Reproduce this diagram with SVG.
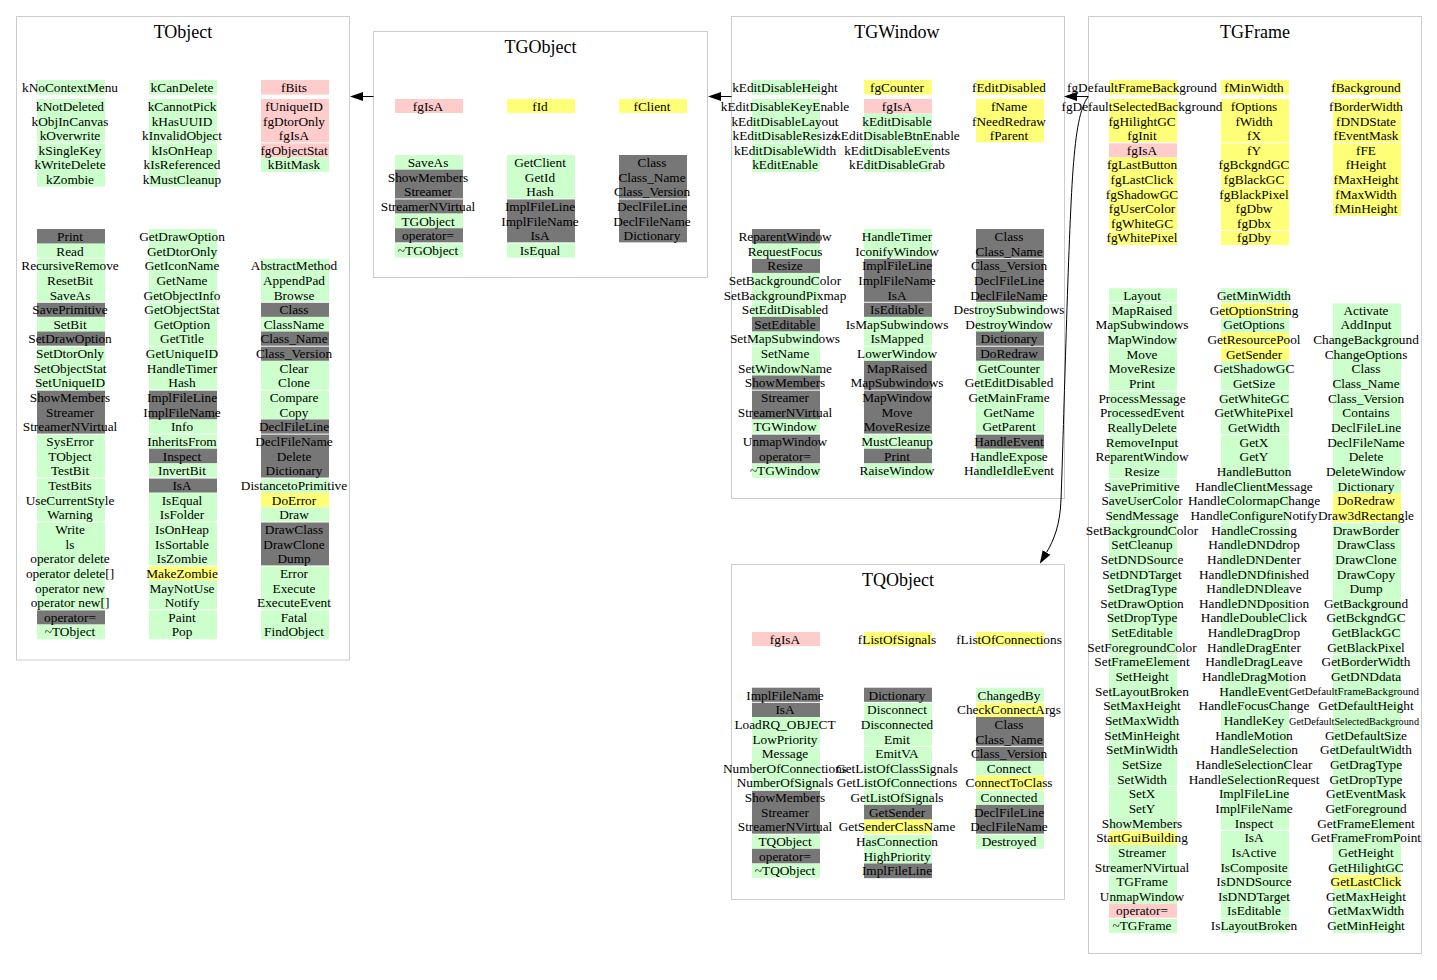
<svg xmlns="http://www.w3.org/2000/svg" width="1437" height="980" viewBox="0 0 1437 980">
<style>
.box{fill:none;stroke:#cccccc;stroke-width:1}
.ttl{font-family:"Liberation Serif","Times New Roman",serif;font-size:18px;text-anchor:middle;fill:#000}
.t{font-family:"Liberation Serif","Times New Roman",serif;font-size:13.3px;text-anchor:middle;fill:#000}
.ts{font-family:"Liberation Serif","Times New Roman",serif;font-size:11.3px;text-anchor:start;fill:#000}
.g{fill:#ccffcc}.k{fill:#777777}.p{fill:#ffcccc}.y{fill:#ffff77}
.sep{stroke:#ffffff;stroke-width:1;fill:none}
.e{fill:none;stroke:#000;stroke-width:1}
</style>
<defs>
<marker id="arr" markerUnits="userSpaceOnUse" markerWidth="13" markerHeight="9" viewBox="0 0 13 9" refX="0" refY="4.5" orient="auto"><path d="M0,0L13,4.5L0,9z" fill="#000"/></marker>
</defs>
<rect width="1437" height="980" fill="#ffffff"/>

<g id="TObject">
<rect class="box" x="16.5" y="16.5" width="333" height="643.5"/>
<text class="ttl" x="183" y="38">TObject</text>
<g transform="translate(37,80)">
<rect class="g" x="0" y="0" width="68" height="14.6"/><rect class="g" x="0" y="19" width="68" height="87.6"/>
<rect class="g" x="112" y="0" width="68" height="14.6"/><rect class="g" x="112" y="19" width="68" height="87.6"/>
<rect class="p" x="224" y="0" width="68" height="14.6"/><rect class="p" x="224" y="19" width="68" height="58.4"/><rect class="g" x="224" y="77.4" width="68" height="14.6"/>
<path class="sep" d="M0,62.8H292"/>
<text class="t"><tspan x="33" y="11.9">kNoContextMenu</tspan><tspan x="33" y="30.9">kNotDeleted</tspan><tspan x="33" y="45.5">kObjInCanvas</tspan><tspan x="33" y="60.1">kOverwrite</tspan><tspan x="33" y="74.7">kSingleKey</tspan><tspan x="33" y="89.3">kWriteDelete</tspan><tspan x="33" y="103.9">kZombie</tspan></text>
<text class="t"><tspan x="145" y="11.9">kCanDelete</tspan><tspan x="145" y="30.9">kCannotPick</tspan><tspan x="145" y="45.5">kHasUUID</tspan><tspan x="145" y="60.1">kInvalidObject</tspan><tspan x="145" y="74.7">kIsOnHeap</tspan><tspan x="145" y="89.3">kIsReferenced</tspan><tspan x="145" y="103.9">kMustCleanup</tspan></text>
<text class="t"><tspan x="257" y="11.9">fBits</tspan><tspan x="257" y="30.9">fUniqueID</tspan><tspan x="257" y="45.5">fgDtorOnly</tspan><tspan x="257" y="60.1">fgIsA</tspan><tspan x="257" y="74.7">fgObjectStat</tspan><tspan x="257" y="89.3">kBitMask</tspan></text>
</g>
<g transform="translate(37,229)">
<rect class="k" x="0" y="0" width="68" height="14.65"/><rect class="g" x="0" y="14.65" width="68" height="58.6"/><rect class="k" x="0" y="73.25" width="68" height="14.65"/><rect class="g" x="0" y="87.9" width="68" height="14.65"/><rect class="k" x="0" y="102.55" width="68" height="14.65"/><rect class="g" x="0" y="117.2" width="68" height="43.95"/><rect class="k" x="0" y="161.15" width="68" height="43.95"/><rect class="g" x="0" y="205.1" width="68" height="175.8"/><rect class="k" x="0" y="380.9" width="68" height="14.65"/><rect class="g" x="0" y="395.55" width="68" height="14.65"/>
<rect class="g" x="112" y="0" width="68" height="161.15"/><rect class="k" x="112" y="161.15" width="68" height="29.3"/><rect class="g" x="112" y="190.45" width="68" height="29.3"/><rect class="k" x="112" y="219.75" width="68" height="14.65"/><rect class="g" x="112" y="234.4" width="68" height="14.65"/><rect class="k" x="112" y="249.05" width="68" height="14.65"/><rect class="g" x="112" y="263.7" width="68" height="73.25"/><rect class="y" x="112" y="336.95" width="68" height="14.65"/><rect class="g" x="112" y="351.6" width="68" height="58.6"/>
<rect class="g" x="224" y="29.3" width="68" height="43.95"/><rect class="k" x="224" y="73.25" width="68" height="14.65"/><rect class="g" x="224" y="87.9" width="68" height="14.65"/><rect class="k" x="224" y="102.55" width="68" height="29.3"/><rect class="g" x="224" y="131.85" width="68" height="58.6"/><rect class="k" x="224" y="190.45" width="68" height="58.6"/><rect class="g" x="224" y="249.05" width="68" height="14.65"/><rect class="y" x="224" y="263.7" width="68" height="14.65"/><rect class="g" x="224" y="278.35" width="68" height="14.65"/><rect class="k" x="224" y="293" width="68" height="43.95"/><rect class="g" x="224" y="336.95" width="68" height="73.25"/>
<path class="sep" d="M0,29.3H292M0,73.25H292M0,117.2H292M0,161.15H292M0,205.1H292M0,249.05H292M0,293H292M0,336.95H292M0,380.9H292"/>
<text class="t"><tspan x="33" y="11.9">Print</tspan><tspan x="33" y="26.55">Read</tspan><tspan x="33" y="41.2">RecursiveRemove</tspan><tspan x="33" y="55.85">ResetBit</tspan><tspan x="33" y="70.5">SaveAs</tspan><tspan x="33" y="85.15">SavePrimitive</tspan><tspan x="33" y="99.8">SetBit</tspan><tspan x="33" y="114.45">SetDrawOption</tspan><tspan x="33" y="129.1">SetDtorOnly</tspan><tspan x="33" y="143.75">SetObjectStat</tspan><tspan x="33" y="158.4">SetUniqueID</tspan><tspan x="33" y="173.05">ShowMembers</tspan><tspan x="33" y="187.7">Streamer</tspan><tspan x="33" y="202.35">StreamerNVirtual</tspan><tspan x="33" y="217">SysError</tspan><tspan x="33" y="231.65">TObject</tspan><tspan x="33" y="246.3">TestBit</tspan><tspan x="33" y="260.95">TestBits</tspan><tspan x="33" y="275.6">UseCurrentStyle</tspan><tspan x="33" y="290.25">Warning</tspan><tspan x="33" y="304.9">Write</tspan><tspan x="33" y="319.55">ls</tspan><tspan x="33" y="334.2">operator delete</tspan><tspan x="33" y="348.85">operator delete[]</tspan><tspan x="33" y="363.5">operator new</tspan><tspan x="33" y="378.15">operator new[]</tspan><tspan x="33" y="392.8">operator=</tspan><tspan x="33" y="407.45">~TObject</tspan></text>
<text class="t"><tspan x="145" y="11.9">GetDrawOption</tspan><tspan x="145" y="26.55">GetDtorOnly</tspan><tspan x="145" y="41.2">GetIconName</tspan><tspan x="145" y="55.85">GetName</tspan><tspan x="145" y="70.5">GetObjectInfo</tspan><tspan x="145" y="85.15">GetObjectStat</tspan><tspan x="145" y="99.8">GetOption</tspan><tspan x="145" y="114.45">GetTitle</tspan><tspan x="145" y="129.1">GetUniqueID</tspan><tspan x="145" y="143.75">HandleTimer</tspan><tspan x="145" y="158.4">Hash</tspan><tspan x="145" y="173.05">ImplFileLine</tspan><tspan x="145" y="187.7">ImplFileName</tspan><tspan x="145" y="202.35">Info</tspan><tspan x="145" y="217">InheritsFrom</tspan><tspan x="145" y="231.65">Inspect</tspan><tspan x="145" y="246.3">InvertBit</tspan><tspan x="145" y="260.95">IsA</tspan><tspan x="145" y="275.6">IsEqual</tspan><tspan x="145" y="290.25">IsFolder</tspan><tspan x="145" y="304.9">IsOnHeap</tspan><tspan x="145" y="319.55">IsSortable</tspan><tspan x="145" y="334.2">IsZombie</tspan><tspan x="145" y="348.85">MakeZombie</tspan><tspan x="145" y="363.5">MayNotUse</tspan><tspan x="145" y="378.15">Notify</tspan><tspan x="145" y="392.8">Paint</tspan><tspan x="145" y="407.45">Pop</tspan></text>
<text class="t"><tspan x="257" y="41.2">AbstractMethod</tspan><tspan x="257" y="55.85">AppendPad</tspan><tspan x="257" y="70.5">Browse</tspan><tspan x="257" y="85.15">Class</tspan><tspan x="257" y="99.8">ClassName</tspan><tspan x="257" y="114.45">Class_Name</tspan><tspan x="257" y="129.1">Class_Version</tspan><tspan x="257" y="143.75">Clear</tspan><tspan x="257" y="158.4">Clone</tspan><tspan x="257" y="173.05">Compare</tspan><tspan x="257" y="187.7">Copy</tspan><tspan x="257" y="202.35">DeclFileLine</tspan><tspan x="257" y="217">DeclFileName</tspan><tspan x="257" y="231.65">Delete</tspan><tspan x="257" y="246.3">Dictionary</tspan><tspan x="257" y="260.95">DistancetoPrimitive</tspan><tspan x="257" y="275.6">DoError</tspan><tspan x="257" y="290.25">Draw</tspan><tspan x="257" y="304.9">DrawClass</tspan><tspan x="257" y="319.55">DrawClone</tspan><tspan x="257" y="334.2">Dump</tspan><tspan x="257" y="348.85">Error</tspan><tspan x="257" y="363.5">Execute</tspan><tspan x="257" y="378.15">ExecuteEvent</tspan><tspan x="257" y="392.8">Fatal</tspan><tspan x="257" y="407.45">FindObject</tspan></text>
</g>
</g>

<g id="TGObject">
<rect class="box" x="373.5" y="31.5" width="334" height="246"/>
<text class="ttl" x="540.5" y="53">TGObject</text>
<g transform="translate(395,99)">
<rect class="p" x="0" y="0" width="68" height="14"/><rect class="y" x="112" y="0" width="68" height="14"/><rect class="y" x="224" y="0" width="68" height="14"/>
<text class="t"><tspan x="33" y="11.5">fgIsA</tspan><tspan x="145" y="11.5">fId</tspan><tspan x="257" y="11.5">fClient</tspan></text>
</g>
<g transform="translate(395,155)">
<rect class="g" x="0" y="0" width="68" height="14.65"/><rect class="k" x="0" y="14.65" width="68" height="43.95"/><rect class="g" x="0" y="58.6" width="68" height="14.65"/><rect class="k" x="0" y="73.25" width="68" height="14.65"/><rect class="g" x="0" y="87.9" width="68" height="14.65"/>
<rect class="g" x="112" y="0" width="68" height="43.95"/><rect class="k" x="112" y="43.95" width="68" height="43.95"/><rect class="g" x="112" y="87.9" width="68" height="14.65"/>
<rect class="k" x="224" y="0" width="68" height="87.9"/>
<path class="sep" d="M0,43.95H292M0,87.9H292"/>
<text class="t"><tspan x="33" y="11.9">SaveAs</tspan><tspan x="33" y="26.55">ShowMembers</tspan><tspan x="33" y="41.2">Streamer</tspan><tspan x="33" y="55.85">StreamerNVirtual</tspan><tspan x="33" y="70.5">TGObject</tspan><tspan x="33" y="85.15">operator=</tspan><tspan x="33" y="99.8">~TGObject</tspan></text>
<text class="t"><tspan x="145" y="11.9">GetClient</tspan><tspan x="145" y="26.55">GetId</tspan><tspan x="145" y="41.2">Hash</tspan><tspan x="145" y="55.85">ImplFileLine</tspan><tspan x="145" y="70.5">ImplFileName</tspan><tspan x="145" y="85.15">IsA</tspan><tspan x="145" y="99.8">IsEqual</tspan></text>
<text class="t"><tspan x="257" y="11.9">Class</tspan><tspan x="257" y="26.55">Class_Name</tspan><tspan x="257" y="41.2">Class_Version</tspan><tspan x="257" y="55.85">DeclFileLine</tspan><tspan x="257" y="70.5">DeclFileName</tspan><tspan x="257" y="85.15">Dictionary</tspan></text>
</g>
</g>

<g id="TGWindow">
<rect class="box" x="731.5" y="16.5" width="333" height="482"/>
<text class="ttl" x="897" y="38">TGWindow</text>
<g transform="translate(752,80)">
<rect class="g" x="0" y="0" width="68" height="14.6"/><rect class="g" x="0" y="19" width="68" height="73"/>
<rect class="y" x="112" y="0" width="68" height="14.6"/><rect class="p" x="112" y="19" width="68" height="14.6"/><rect class="g" x="112" y="33.6" width="68" height="58.4"/>
<rect class="y" x="224" y="0" width="68" height="14.6"/><rect class="y" x="224" y="19" width="68" height="43.8"/>
<path class="sep" d="M0,62.8H292"/>
<text class="t"><tspan x="33" y="11.9">kEditDisableHeight</tspan><tspan x="33" y="30.9">kEditDisableKeyEnable</tspan><tspan x="33" y="45.5">kEditDisableLayout</tspan><tspan x="33" y="60.1">kEditDisableResize</tspan><tspan x="33" y="74.7">kEditDisableWidth</tspan><tspan x="33" y="89.3">kEditEnable</tspan></text>
<text class="t"><tspan x="145" y="11.9">fgCounter</tspan><tspan x="145" y="30.9">fgIsA</tspan><tspan x="145" y="45.5">kEditDisable</tspan><tspan x="145" y="60.1">kEditDisableBtnEnable</tspan><tspan x="145" y="74.7">kEditDisableEvents</tspan><tspan x="145" y="89.3">kEditDisableGrab</tspan></text>
<text class="t"><tspan x="257" y="11.9">fEditDisabled</tspan><tspan x="257" y="30.9">fName</tspan><tspan x="257" y="45.5">fNeedRedraw</tspan><tspan x="257" y="60.1">fParent</tspan></text>
</g>
<g transform="translate(752,229)">
<rect class="k" x="0" y="0" width="68" height="14.65"/><rect class="g" x="0" y="14.65" width="68" height="14.65"/><rect class="k" x="0" y="29.3" width="68" height="14.65"/><rect class="g" x="0" y="43.95" width="68" height="43.95"/><rect class="k" x="0" y="87.9" width="68" height="14.65"/><rect class="g" x="0" y="102.55" width="68" height="43.95"/><rect class="k" x="0" y="146.5" width="68" height="43.95"/><rect class="g" x="0" y="190.45" width="68" height="14.65"/><rect class="k" x="0" y="205.1" width="68" height="29.3"/><rect class="g" x="0" y="234.4" width="68" height="14.65"/>
<rect class="g" x="112" y="0" width="68" height="29.3"/><rect class="k" x="112" y="29.3" width="68" height="58.6"/><rect class="g" x="112" y="87.9" width="68" height="43.95"/><rect class="k" x="112" y="131.85" width="68" height="73.25"/><rect class="g" x="112" y="205.1" width="68" height="14.65"/><rect class="k" x="112" y="219.75" width="68" height="14.65"/><rect class="g" x="112" y="234.4" width="68" height="14.65"/>
<rect class="k" x="224" y="0" width="68" height="73.25"/><rect class="g" x="224" y="73.25" width="68" height="29.3"/><rect class="k" x="224" y="102.55" width="68" height="29.3"/><rect class="g" x="224" y="131.85" width="68" height="73.25"/><rect class="k" x="224" y="205.1" width="68" height="14.65"/><rect class="g" x="224" y="219.75" width="68" height="29.3"/>
<path class="sep" d="M0,29.3H292M0,73.25H292M0,117.2H292M0,161.15H292M0,205.1H292"/>
<text class="t"><tspan x="33" y="11.9">ReparentWindow</tspan><tspan x="33" y="26.55">RequestFocus</tspan><tspan x="33" y="41.2">Resize</tspan><tspan x="33" y="55.85">SetBackgroundColor</tspan><tspan x="33" y="70.5">SetBackgroundPixmap</tspan><tspan x="33" y="85.15">SetEditDisabled</tspan><tspan x="33" y="99.8">SetEditable</tspan><tspan x="33" y="114.45">SetMapSubwindows</tspan><tspan x="33" y="129.1">SetName</tspan><tspan x="33" y="143.75">SetWindowName</tspan><tspan x="33" y="158.4">ShowMembers</tspan><tspan x="33" y="173.05">Streamer</tspan><tspan x="33" y="187.7">StreamerNVirtual</tspan><tspan x="33" y="202.35">TGWindow</tspan><tspan x="33" y="217">UnmapWindow</tspan><tspan x="33" y="231.65">operator=</tspan><tspan x="33" y="246.3">~TGWindow</tspan></text>
<text class="t"><tspan x="145" y="11.9">HandleTimer</tspan><tspan x="145" y="26.55">IconifyWindow</tspan><tspan x="145" y="41.2">ImplFileLine</tspan><tspan x="145" y="55.85">ImplFileName</tspan><tspan x="145" y="70.5">IsA</tspan><tspan x="145" y="85.15">IsEditable</tspan><tspan x="145" y="99.8">IsMapSubwindows</tspan><tspan x="145" y="114.45">IsMapped</tspan><tspan x="145" y="129.1">LowerWindow</tspan><tspan x="145" y="143.75">MapRaised</tspan><tspan x="145" y="158.4">MapSubwindows</tspan><tspan x="145" y="173.05">MapWindow</tspan><tspan x="145" y="187.7">Move</tspan><tspan x="145" y="202.35">MoveResize</tspan><tspan x="145" y="217">MustCleanup</tspan><tspan x="145" y="231.65">Print</tspan><tspan x="145" y="246.3">RaiseWindow</tspan></text>
<text class="t"><tspan x="257" y="11.9">Class</tspan><tspan x="257" y="26.55">Class_Name</tspan><tspan x="257" y="41.2">Class_Version</tspan><tspan x="257" y="55.85">DeclFileLine</tspan><tspan x="257" y="70.5">DeclFileName</tspan><tspan x="257" y="85.15">DestroySubwindows</tspan><tspan x="257" y="99.8">DestroyWindow</tspan><tspan x="257" y="114.45">Dictionary</tspan><tspan x="257" y="129.1">DoRedraw</tspan><tspan x="257" y="143.75">GetCounter</tspan><tspan x="257" y="158.4">GetEditDisabled</tspan><tspan x="257" y="173.05">GetMainFrame</tspan><tspan x="257" y="187.7">GetName</tspan><tspan x="257" y="202.35">GetParent</tspan><tspan x="257" y="217">HandleEvent</tspan><tspan x="257" y="231.65">HandleExpose</tspan><tspan x="257" y="246.3">HandleIdleEvent</tspan></text>
</g>
</g>

<g id="TQObject">
<rect class="box" x="731.5" y="564.5" width="333" height="335"/>
<text class="ttl" x="898" y="586">TQObject</text>
<g transform="translate(752,632)">
<rect class="p" x="0" y="0" width="68" height="14"/><rect class="y" x="112" y="0" width="68" height="14"/><rect class="y" x="224" y="0" width="68" height="14"/>
<text class="t"><tspan x="33" y="11.5">fgIsA</tspan><tspan x="145" y="11.5">fListOfSignals</tspan><tspan x="257" y="11.5">fListOfConnections</tspan></text>
</g>
<g transform="translate(752,687.7)">
<rect class="k" x="0" y="0" width="68" height="29.3"/><rect class="g" x="0" y="29.3" width="68" height="73.25"/><rect class="k" x="0" y="102.55" width="68" height="43.95"/><rect class="g" x="0" y="146.5" width="68" height="14.65"/><rect class="k" x="0" y="161.15" width="68" height="14.65"/><rect class="g" x="0" y="175.8" width="68" height="14.65"/>
<rect class="k" x="112" y="0" width="68" height="14.65"/><rect class="g" x="112" y="14.65" width="68" height="102.55"/><rect class="k" x="112" y="117.2" width="68" height="14.65"/><rect class="y" x="112" y="131.85" width="68" height="14.65"/><rect class="g" x="112" y="146.5" width="68" height="29.3"/><rect class="k" x="112" y="175.8" width="68" height="14.65"/>
<rect class="g" x="224" y="0" width="68" height="14.65"/><rect class="y" x="224" y="14.65" width="68" height="14.65"/><rect class="k" x="224" y="29.3" width="68" height="43.95"/><rect class="g" x="224" y="73.25" width="68" height="14.65"/><rect class="y" x="224" y="87.9" width="68" height="14.65"/><rect class="g" x="224" y="102.55" width="68" height="14.65"/><rect class="k" x="224" y="117.2" width="68" height="29.3"/><rect class="g" x="224" y="146.5" width="68" height="14.65"/>
<path class="sep" d="M0,14.65H292M0,58.6H292M0,102.55H292M0,146.5H292"/>
<text class="t"><tspan x="33" y="11.9">ImplFileName</tspan><tspan x="33" y="26.55">IsA</tspan><tspan x="33" y="41.2">LoadRQ_OBJECT</tspan><tspan x="33" y="55.85">LowPriority</tspan><tspan x="33" y="70.5">Message</tspan><tspan x="33" y="85.15">NumberOfConnections</tspan><tspan x="33" y="99.8">NumberOfSignals</tspan><tspan x="33" y="114.45">ShowMembers</tspan><tspan x="33" y="129.1">Streamer</tspan><tspan x="33" y="143.75">StreamerNVirtual</tspan><tspan x="33" y="158.4">TQObject</tspan><tspan x="33" y="173.05">operator=</tspan><tspan x="33" y="187.7">~TQObject</tspan></text>
<text class="t"><tspan x="145" y="11.9">Dictionary</tspan><tspan x="145" y="26.55">Disconnect</tspan><tspan x="145" y="41.2">Disconnected</tspan><tspan x="145" y="55.85">Emit</tspan><tspan x="145" y="70.5">EmitVA</tspan><tspan x="145" y="85.15">GetListOfClassSignals</tspan><tspan x="145" y="99.8">GetListOfConnections</tspan><tspan x="145" y="114.45">GetListOfSignals</tspan><tspan x="145" y="129.1">GetSender</tspan><tspan x="145" y="143.75">GetSenderClassName</tspan><tspan x="145" y="158.4">HasConnection</tspan><tspan x="145" y="173.05">HighPriority</tspan><tspan x="145" y="187.7">ImplFileLine</tspan></text>
<text class="t"><tspan x="257" y="11.9">ChangedBy</tspan><tspan x="257" y="26.55">CheckConnectArgs</tspan><tspan x="257" y="41.2">Class</tspan><tspan x="257" y="55.85">Class_Name</tspan><tspan x="257" y="70.5">Class_Version</tspan><tspan x="257" y="85.15">Connect</tspan><tspan x="257" y="99.8">ConnectToClass</tspan><tspan x="257" y="114.45">Connected</tspan><tspan x="257" y="129.1">DeclFileLine</tspan><tspan x="257" y="143.75">DeclFileName</tspan><tspan x="257" y="158.4">Destroyed</tspan></text>
</g>
</g>

<g id="TGFrame">
<rect class="box" x="1088.5" y="16.5" width="333" height="937"/>
<text class="ttl" x="1255" y="38">TGFrame</text>
<g transform="translate(1109,80)">
<rect class="y" x="0" y="0" width="68" height="14.6"/><rect class="y" x="0" y="19" width="68" height="43.8"/><rect class="p" x="0" y="62.8" width="68" height="14.6"/><rect class="y" x="0" y="77.4" width="68" height="87.6"/>
<rect class="y" x="112" y="0" width="68" height="14.6"/><rect class="y" x="112" y="19" width="68" height="146"/>
<rect class="y" x="224" y="0" width="68" height="14.6"/><rect class="y" x="224" y="19" width="68" height="116.8"/>
<path class="sep" d="M0,62.8H292M0,106.6H292M0,150.4H292"/>
<text class="t"><tspan x="33" y="11.9">fgDefaultFrameBackground</tspan><tspan x="33" y="30.9">fgDefaultSelectedBackground</tspan><tspan x="33" y="45.5">fgHilightGC</tspan><tspan x="33" y="60.1">fgInit</tspan><tspan x="33" y="74.7">fgIsA</tspan><tspan x="33" y="89.3">fgLastButton</tspan><tspan x="33" y="103.9">fgLastClick</tspan><tspan x="33" y="118.5">fgShadowGC</tspan><tspan x="33" y="133.1">fgUserColor</tspan><tspan x="33" y="147.7">fgWhiteGC</tspan><tspan x="33" y="162.3">fgWhitePixel</tspan></text>
<text class="t"><tspan x="145" y="11.9">fMinWidth</tspan><tspan x="145" y="30.9">fOptions</tspan><tspan x="145" y="45.5">fWidth</tspan><tspan x="145" y="60.1">fX</tspan><tspan x="145" y="74.7">fY</tspan><tspan x="145" y="89.3">fgBckgndGC</tspan><tspan x="145" y="103.9">fgBlackGC</tspan><tspan x="145" y="118.5">fgBlackPixel</tspan><tspan x="145" y="133.1">fgDbw</tspan><tspan x="145" y="147.7">fgDbx</tspan><tspan x="145" y="162.3">fgDby</tspan></text>
<text class="t"><tspan x="257" y="11.9">fBackground</tspan><tspan x="257" y="30.9">fBorderWidth</tspan><tspan x="257" y="45.5">fDNDState</tspan><tspan x="257" y="60.1">fEventMask</tspan><tspan x="257" y="74.7">fFE</tspan><tspan x="257" y="89.3">fHeight</tspan><tspan x="257" y="103.9">fMaxHeight</tspan><tspan x="257" y="118.5">fMaxWidth</tspan><tspan x="257" y="133.1">fMinHeight</tspan></text>
</g>
<g transform="translate(1109,288.3)">
<rect class="g" x="0" y="0" width="68" height="542.05"/><rect class="y" x="0" y="542.05" width="68" height="14.65"/><rect class="g" x="0" y="556.7" width="68" height="58.6"/><rect class="p" x="0" y="615.3" width="68" height="14.65"/><rect class="g" x="0" y="629.95" width="68" height="14.65"/>
<rect class="g" x="112" y="0" width="68" height="14.65"/><rect class="y" x="112" y="14.65" width="68" height="14.65"/><rect class="g" x="112" y="29.3" width="68" height="14.65"/><rect class="y" x="112" y="43.95" width="68" height="29.3"/><rect class="g" x="112" y="73.25" width="68" height="571.35"/>
<rect class="g" x="224" y="14.65" width="68" height="190.45"/><rect class="y" x="224" y="205.1" width="68" height="29.3"/><rect class="g" x="224" y="234.4" width="68" height="351.6"/><rect class="y" x="224" y="586" width="68" height="14.65"/><rect class="g" x="224" y="600.65" width="68" height="43.95"/>
<path class="sep" d="M0,14.65H292M0,58.6H292M0,102.55H292M0,146.5H292M0,190.45H292M0,234.4H292M0,278.35H292M0,322.3H292M0,366.25H292M0,410.2H292M0,454.15H292M0,498.1H292M0,542.05H292M0,586H292M0,629.95H292"/>
<text class="t"><tspan x="33" y="11.9">Layout</tspan><tspan x="33" y="26.55">MapRaised</tspan><tspan x="33" y="41.2">MapSubwindows</tspan><tspan x="33" y="55.85">MapWindow</tspan><tspan x="33" y="70.5">Move</tspan><tspan x="33" y="85.15">MoveResize</tspan><tspan x="33" y="99.8">Print</tspan><tspan x="33" y="114.45">ProcessMessage</tspan><tspan x="33" y="129.1">ProcessedEvent</tspan><tspan x="33" y="143.75">ReallyDelete</tspan><tspan x="33" y="158.4">RemoveInput</tspan><tspan x="33" y="173.05">ReparentWindow</tspan><tspan x="33" y="187.7">Resize</tspan><tspan x="33" y="202.35">SavePrimitive</tspan><tspan x="33" y="217">SaveUserColor</tspan><tspan x="33" y="231.65">SendMessage</tspan><tspan x="33" y="246.3">SetBackgroundColor</tspan><tspan x="33" y="260.95">SetCleanup</tspan><tspan x="33" y="275.6">SetDNDSource</tspan><tspan x="33" y="290.25">SetDNDTarget</tspan><tspan x="33" y="304.9">SetDragType</tspan><tspan x="33" y="319.55">SetDrawOption</tspan><tspan x="33" y="334.2">SetDropType</tspan><tspan x="33" y="348.85">SetEditable</tspan><tspan x="33" y="363.5">SetForegroundColor</tspan><tspan x="33" y="378.15">SetFrameElement</tspan><tspan x="33" y="392.8">SetHeight</tspan><tspan x="33" y="407.45">SetLayoutBroken</tspan><tspan x="33" y="422.1">SetMaxHeight</tspan><tspan x="33" y="436.75">SetMaxWidth</tspan><tspan x="33" y="451.4">SetMinHeight</tspan><tspan x="33" y="466.05">SetMinWidth</tspan><tspan x="33" y="480.7">SetSize</tspan><tspan x="33" y="495.35">SetWidth</tspan><tspan x="33" y="510">SetX</tspan><tspan x="33" y="524.65">SetY</tspan><tspan x="33" y="539.3">ShowMembers</tspan><tspan x="33" y="553.95">StartGuiBuilding</tspan><tspan x="33" y="568.6">Streamer</tspan><tspan x="33" y="583.25">StreamerNVirtual</tspan><tspan x="33" y="597.9">TGFrame</tspan><tspan x="33" y="612.55">UnmapWindow</tspan><tspan x="33" y="627.2">operator=</tspan><tspan x="33" y="641.85">~TGFrame</tspan></text>
<text class="t"><tspan x="145" y="11.9">GetMinWidth</tspan><tspan x="145" y="26.55">GetOptionString</tspan><tspan x="145" y="41.2">GetOptions</tspan><tspan x="145" y="55.85">GetResourcePool</tspan><tspan x="145" y="70.5">GetSender</tspan><tspan x="145" y="85.15">GetShadowGC</tspan><tspan x="145" y="99.8">GetSize</tspan><tspan x="145" y="114.45">GetWhiteGC</tspan><tspan x="145" y="129.1">GetWhitePixel</tspan><tspan x="145" y="143.75">GetWidth</tspan><tspan x="145" y="158.4">GetX</tspan><tspan x="145" y="173.05">GetY</tspan><tspan x="145" y="187.7">HandleButton</tspan><tspan x="145" y="202.35">HandleClientMessage</tspan><tspan x="145" y="217">HandleColormapChange</tspan><tspan x="145" y="231.65">HandleConfigureNotify</tspan><tspan x="145" y="246.3">HandleCrossing</tspan><tspan x="145" y="260.95">HandleDNDdrop</tspan><tspan x="145" y="275.6">HandleDNDenter</tspan><tspan x="145" y="290.25">HandleDNDfinished</tspan><tspan x="145" y="304.9">HandleDNDleave</tspan><tspan x="145" y="319.55">HandleDNDposition</tspan><tspan x="145" y="334.2">HandleDoubleClick</tspan><tspan x="145" y="348.85">HandleDragDrop</tspan><tspan x="145" y="363.5">HandleDragEnter</tspan><tspan x="145" y="378.15">HandleDragLeave</tspan><tspan x="145" y="392.8">HandleDragMotion</tspan><tspan x="145" y="407.45">HandleEvent</tspan><tspan x="145" y="422.1">HandleFocusChange</tspan><tspan x="145" y="436.75">HandleKey</tspan><tspan x="145" y="451.4">HandleMotion</tspan><tspan x="145" y="466.05">HandleSelection</tspan><tspan x="145" y="480.7">HandleSelectionClear</tspan><tspan x="145" y="495.35">HandleSelectionRequest</tspan><tspan x="145" y="510">ImplFileLine</tspan><tspan x="145" y="524.65">ImplFileName</tspan><tspan x="145" y="539.3">Inspect</tspan><tspan x="145" y="553.95">IsA</tspan><tspan x="145" y="568.6">IsActive</tspan><tspan x="145" y="583.25">IsComposite</tspan><tspan x="145" y="597.9">IsDNDSource</tspan><tspan x="145" y="612.55">IsDNDTarget</tspan><tspan x="145" y="627.2">IsEditable</tspan><tspan x="145" y="641.85">IsLayoutBroken</tspan></text>
<text class="t"><tspan x="257" y="26.55">Activate</tspan><tspan x="257" y="41.2">AddInput</tspan><tspan x="257" y="55.85">ChangeBackground</tspan><tspan x="257" y="70.5">ChangeOptions</tspan><tspan x="257" y="85.15">Class</tspan><tspan x="257" y="99.8">Class_Name</tspan><tspan x="257" y="114.45">Class_Version</tspan><tspan x="257" y="129.1">Contains</tspan><tspan x="257" y="143.75">DeclFileLine</tspan><tspan x="257" y="158.4">DeclFileName</tspan><tspan x="257" y="173.05">Delete</tspan><tspan x="257" y="187.7">DeleteWindow</tspan><tspan x="257" y="202.35">Dictionary</tspan><tspan x="257" y="217">DoRedraw</tspan><tspan x="257" y="231.65">Draw3dRectangle</tspan><tspan x="257" y="246.3">DrawBorder</tspan><tspan x="257" y="260.95">DrawClass</tspan><tspan x="257" y="275.6">DrawClone</tspan><tspan x="257" y="290.25">DrawCopy</tspan><tspan x="257" y="304.9">Dump</tspan><tspan x="257" y="319.55">GetBackground</tspan><tspan x="257" y="334.2">GetBckgndGC</tspan><tspan x="257" y="348.85">GetBlackGC</tspan><tspan x="257" y="363.5">GetBlackPixel</tspan><tspan x="257" y="378.15">GetBorderWidth</tspan><tspan x="257" y="392.8">GetDNDdata</tspan><tspan x="257" y="422.1">GetDefaultHeight</tspan><tspan x="257" y="451.4">GetDefaultSize</tspan><tspan x="257" y="466.05">GetDefaultWidth</tspan><tspan x="257" y="480.7">GetDragType</tspan><tspan x="257" y="495.35">GetDropType</tspan><tspan x="257" y="510">GetEventMask</tspan><tspan x="257" y="524.65">GetForeground</tspan><tspan x="257" y="539.3">GetFrameElement</tspan><tspan x="257" y="553.95">GetFrameFromPoint</tspan><tspan x="257" y="568.6">GetHeight</tspan><tspan x="257" y="583.25">GetHilightGC</tspan><tspan x="257" y="597.9">GetLastClick</tspan><tspan x="257" y="612.55">GetMaxHeight</tspan><tspan x="257" y="627.2">GetMaxWidth</tspan><tspan x="257" y="641.85">GetMinHeight</tspan></text>
<text class="ts" x="180" y="407.2" textLength="130" lengthAdjust="spacingAndGlyphs">GetDefaultFrameBackground</text>
<text class="ts" x="180" y="436.5" textLength="130" lengthAdjust="spacingAndGlyphs">GetDefaultSelectedBackground</text>
</g>
</g>

<g id="connectors">
<path class="e" d="M373.5,96.5H363" marker-end="url(#arr)"/>
<path class="e" d="M731.5,96.5H721" marker-end="url(#arr)"/>
<path class="e" d="M1088.5,96.5H1077" marker-end="url(#arr)"/>
<path class="e" d="M1088,97C1080,108 1076,130 1073,170C1068,240 1064,420 1061,500C1060,525 1054,540 1046.5,552.5" marker-end="url(#arr)"/>
</g>
</svg>
